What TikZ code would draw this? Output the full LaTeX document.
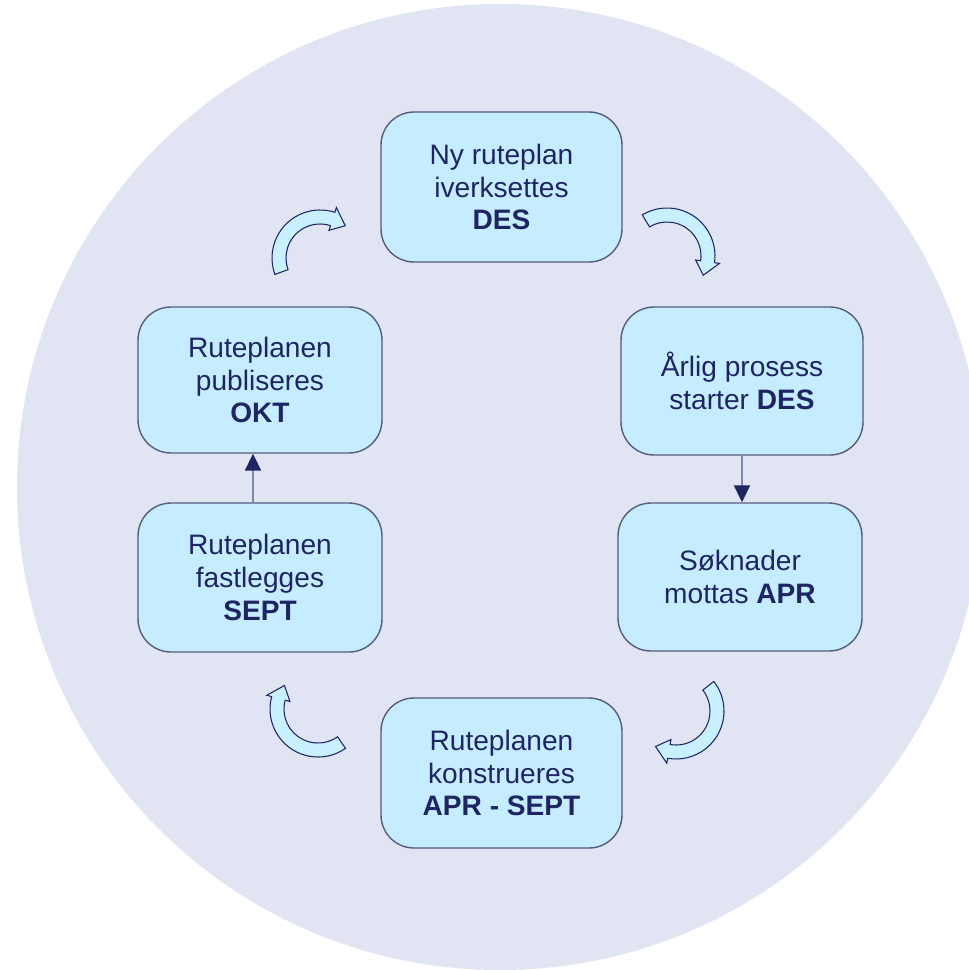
\documentclass[tikz,border=0pt]{standalone}
\usepackage{fontspec}
\setmainfont{Liberation Sans}
\usetikzlibrary{calc,arrows.meta}
\definecolor{bgcirc}{RGB}{225,228,243}
\definecolor{boxfill}{RGB}{197,237,255}
\definecolor{boxline}{RGB}{85,92,125}
\definecolor{navy}{RGB}{30,37,98}
\definecolor{connline}{RGB}{128,135,168}
\definecolor{arrfill}{RGB}{200,240,255}
\tikzset{
  stepbox/.style={draw=boxline, line width=0.8pt, fill=boxfill, rounded corners=0.66cm,
    inner sep=0pt, align=center, text=navy, font=\fontsize{16}{18.7}\selectfont},
  conn/.style={draw=connline, line width=1.1pt, -{Triangle[width=0.32cm,length=0.34cm,color=navy,fill=navy]}},
  carrow/.style={draw=navy, line width=0.6pt, fill=arrfill, line join=miter}
}
\newcommand\curvarrow[4]{%
  \draw[carrow] ($(#1)+(#2:48)$) arc[start angle=#2, end angle=#3, radius=48]
    -- ($(#1)+(#3:53)$) -- ($(#1)+(#4:41)$) -- ($(#1)+(#3:29)$) -- ($(#1)+(#3:34)$)
    arc[start angle=#3, end angle=#2, radius=34] -- cycle;}
\begin{document}
\begin{tikzpicture}[x=0.02cm, y=0.02cm]
\useasboundingbox (0,0) rectangle (969,-970);
\clip (0,0) rectangle (969,-970);
\fill[bgcirc] (500,-487) circle[radius=483];

\node[stepbox, minimum width=4.82cm, minimum height=3.0cm] (top) at (501.5,-187) {Ny ruteplan\\iverksettes\\\textbf{DES}};
\node[stepbox, minimum width=4.84cm, minimum height=2.96cm] (arlig) at (742,-381) {Årlig prosess\\starter \textbf{DES}};
\node[stepbox, minimum width=4.88cm, minimum height=2.96cm] (sok) at (740,-577) {Søknader\\mottas \textbf{APR}};
\node[stepbox, minimum width=4.82cm, minimum height=3.0cm] (bot) at (501.5,-773) {Ruteplanen\\konstrueres\\\textbf{APR - SEPT}};
\node[stepbox, minimum width=4.88cm, minimum height=2.98cm] (fast) at (260,-577.5) {Ruteplanen\\fastlegges\\\textbf{SEPT}};
\node[stepbox, minimum width=4.88cm, minimum height=2.92cm] (pub) at (260,-380) {Ruteplanen\\publiseres\\\textbf{OKT}};

\draw[conn] (arlig.south) -- (arlig.south |- sok.north);
\draw[conn] ([xshift=-0.14cm]fast.north) -- ([xshift=-0.14cm]fast.north |- pub.south);

\coordinate (c1) at (320,-258);
\coordinate (c2) at (667,-256);
\coordinate (c3) at (676,-711);
\coordinate (c4) at (318,-709);
\curvarrow{c1}{200}{72}{52}
\curvarrow{c2}{121}{-8}{-28}
\curvarrow{c3}{38}{-100}{-120}
\curvarrow{c4}{-55}{-195}{-215}
\end{tikzpicture}
\end{document}
